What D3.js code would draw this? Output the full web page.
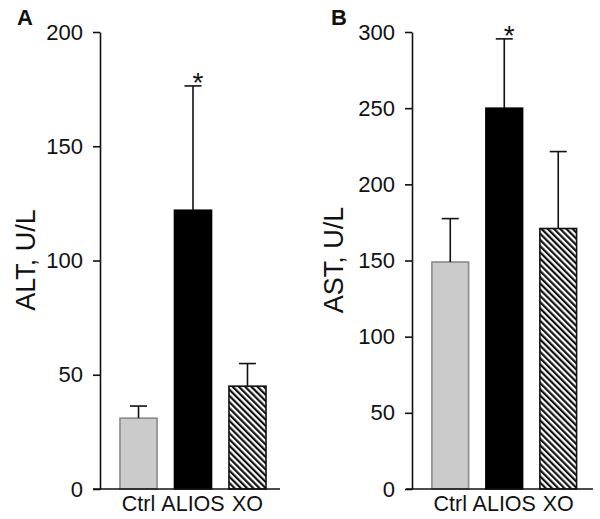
<!DOCTYPE html>
<html>
<head>
<meta charset="utf-8">
<script src="https://cdn.jsdelivr.net/npm/d3@7"></script>
<style>
  html, body { margin: 0; padding: 0; background: #fff; }
  svg { display: block; }
  text { font-family: "Liberation Sans", Arial, Helvetica, sans-serif; fill: #111; }
</style>
</head>
<body>
<svg id="chart" width="600" height="519"></svg>
<script>
// ---- data ----
const categories = ["Ctrl", "ALIOS", "XO"];
const altMean = [31, 122, 45];
const altErr = [5.3, 54.4, 9.9];
const astMean = [149, 250, 171];
const astErr = [28.5, 45.5, 50.5];
const significant = [false, true, false];
const altTicks = [0, 50, 100, 150, 200];
const astTicks = [0, 50, 100, 150, 200, 250, 300];
const panelLabels = ["A", "B"];
const yTitles = ["ALT, U/L", "AST, U/L"];

const svg = d3.select("#chart");

const defs = svg.append("defs");
defs.append("pattern")
  .attr("id", "hatch")
  .attr("patternUnits", "userSpaceOnUse")
  .attr("width", 4.4).attr("height", 4.4)
  .attr("patternTransform", "rotate(-45)")
  .call(p => {
    p.append("rect").attr("width", 4.4).attr("height", 4.4).attr("fill", "#fff");
    p.append("line").attr("x1", 1.1).attr("y1", 0).attr("x2", 1.1).attr("y2", 4.4)
      .attr("stroke", "#111").attr("stroke-width", 2.2);
  });

const fills = ["#cbcbcb", "#000", "url(#hatch)"];
const strokes = ["#8a8a8a", "#000", "#111"];

const panels = [
  { label: panelLabels[0], title: yTitles[0], mean: altMean, err: altErr, ticks: altTicks, max: 200,
    axisX: 100, xRange: [111, 275], xAxisExt: [93, 280], labelX: 17, titleX: 25 },
  { label: panelLabels[1], title: yTitles[1], mean: astMean, err: astErr, ticks: astTicks, max: 300,
    axisX: 412, xRange: [423, 585.5], xAxisExt: [406, 593], labelX: 331, titleX: 333 }
];

const yTop = 32, yBottom = 489;

panels.forEach(P => {
  const g = svg.append("g");
  const y = d3.scaleLinear().domain([0, P.max]).range([yBottom, yTop]);
  const x = d3.scaleBand().domain(categories).range(P.xRange)
    .paddingInner(0.32).paddingOuter(0.165);

  // bars
  g.selectAll("rect.bar").data(categories).enter().append("rect")
    .attr("class", "bar")
    .attr("x", d => x(d))
    .attr("width", x.bandwidth())
    .attr("y", (d, i) => y(P.mean[i]))
    .attr("height", (d, i) => y(0) - y(P.mean[i]))
    .attr("fill", (d, i) => fills[i])
    .attr("stroke", (d, i) => strokes[i])
    .attr("stroke-width", 1.6);

  // error bars (upper only)
  categories.forEach((c, i) => {
    const cx = x(c) + x.bandwidth() / 2;
    const top = y(P.mean[i] + P.err[i]);
    g.append("line").attr("x1", cx).attr("x2", cx)
      .attr("y1", y(P.mean[i])).attr("y2", top)
      .attr("stroke", "#111").attr("stroke-width", 1.6);
    g.append("line").attr("x1", cx - 8.5).attr("x2", cx + 8.5)
      .attr("y1", top).attr("y2", top)
      .attr("stroke", "#111").attr("stroke-width", 1.6);
    if (significant[i]) {
      g.append("text").attr("x", cx + 5).attr("y", top + 6)
        .attr("text-anchor", "middle").attr("font-size", 28).text("*");
    }
  });

  // y axis
  const yAxis = d3.axisLeft(y).tickValues(P.ticks).tickSize(7).tickPadding(10).tickSizeOuter(0);
  const ya = g.append("g").attr("transform", `translate(${P.axisX},0)`).call(yAxis);
  ya.selectAll("path, line").attr("stroke", "#111").attr("stroke-width", 1.6);
  ya.selectAll("text").attr("font-size", 22).attr("fill", "#111")
    .style("font-family", '"Liberation Sans", Arial, sans-serif');

  // x axis baseline
  g.append("line").attr("x1", P.xAxisExt[0]).attr("x2", P.xAxisExt[1])
    .attr("y1", yBottom).attr("y2", yBottom)
    .attr("stroke", "#111").attr("stroke-width", 1.6);

  // x labels
  g.selectAll("text.xl").data(categories).enter().append("text")
    .attr("class", "xl")
    .attr("x", d => x(d) + x.bandwidth() / 2)
    .attr("y", 511)
    .attr("text-anchor", "middle").attr("font-size", 21.5)
    .text(d => d);

  // y title
  g.append("text")
    .attr("transform", `translate(${P.titleX + 10},${260}) rotate(-90)`)
    .attr("text-anchor", "middle").attr("font-size", 27)
    .text(P.title);

  // panel label
  g.append("text").attr("x", P.labelX).attr("y", 25)
    .attr("font-size", 22).attr("font-weight", "bold").text(P.label);
});
</script>
</body>
</html>
